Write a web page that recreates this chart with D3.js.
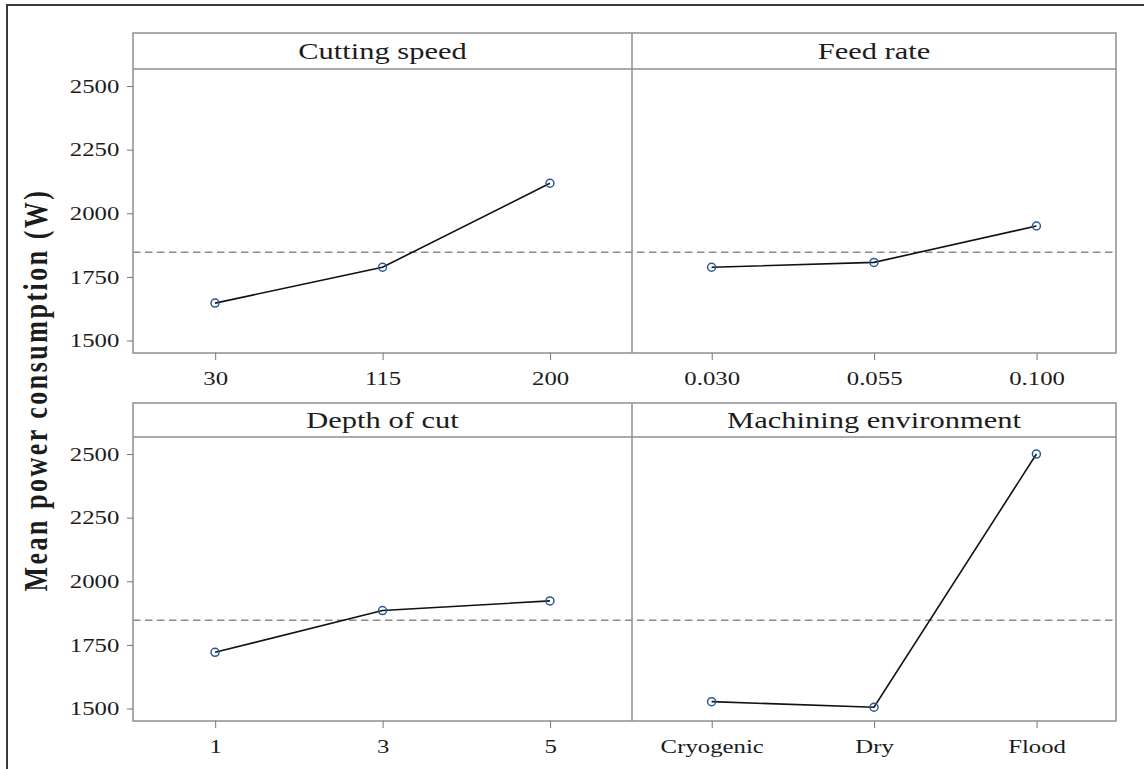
<!DOCTYPE html>
<html>
<head>
<meta charset="utf-8">
<script src="https://cdn.jsdelivr.net/npm/d3@7"></script>
<style>
  html, body { margin: 0; padding: 0; background: #fff; }
  svg { display: block; }
  .frame, .panel line, .panel rect, .tick line, .mark-line, .mean-line, .marker {
    vector-effect: non-scaling-stroke;
  }
</style>
</head>
<body>
<div id="chart"></div>
<script>
// Main effects plot: mean power consumption for each machining factor
const factorNames = ["Cutting speed", "Feed rate", "Depth of cut", "Machining environment"];

const cuttingSpeedLevels = ["30", "115", "200"];
const cuttingSpeedMeans  = [1647, 1788, 2118];

const feedRateLevels = ["0.030", "0.055", "0.100"];
const feedRateMeans  = [1788, 1807, 1950];

const depthOfCutLevels = ["1", "3", "5"];
const depthOfCutMeans  = [1721, 1885, 1923];

const environmentLevels = ["Cryogenic", "Dry", "Flood"];
const environmentMeans  = [1527, 1505, 2500];

const yTickValues = [1500, 1750, 2000, 2250, 2500];
const grandMean = 1847;
const yLabel = "Mean power consumption (W)";

// Drawing space is narrower than the page; the viewBox widens it to full width.
const pageW = 1144, pageH = 769;
const W = 900, H = 769;
const sx = pageW / W;

const svg = d3.select("#chart").append("svg")
  .attr("width", pageW).attr("height", pageH)
  .attr("viewBox", `0 0 ${W} ${H}`)
  .attr("preserveAspectRatio", "none");

const fontSerif = "'Liberation Serif', 'Times New Roman', serif";
const textColor = "#1c1c1c";
const borderColor = "#8e8e8e";

// Outer frame
svg.append("rect").attr("class", "frame")
  .attr("x", 7 / sx).attr("y", 5).attr("width", W).attr("height", H)
  .attr("fill", "none").attr("stroke", "#3a3a3a").attr("stroke-width", 2);

const colX = [133 / sx, 632 / sx, 1116 / sx];
const rows = [
  { top: 33, header: 69, bottom: 353 },
  { top: 403, header: 437, bottom: 721 }
];

const panels = [
  { name: factorNames[0], levels: cuttingSpeedLevels, means: cuttingSpeedMeans, row: 0, col: 0 },
  { name: factorNames[1], levels: feedRateLevels, means: feedRateMeans, row: 0, col: 1 },
  { name: factorNames[2], levels: depthOfCutLevels, means: depthOfCutMeans, row: 1, col: 0 },
  { name: factorNames[3], levels: environmentLevels, means: environmentMeans, row: 1, col: 1 }
];

const yDomain = [1451, 2567];

rows.forEach((r, ri) => {
  const g = svg.append("g").attr("class", "panel");
  const y = d3.scaleLinear().domain(yDomain).range([r.bottom, r.header]);

  // Reference line at the grand mean spanning both columns
  g.append("line").attr("class", "mean-line")
    .attr("x1", colX[0]).attr("x2", colX[2])
    .attr("y1", y(grandMean)).attr("y2", y(grandMean))
    .attr("stroke", "#8a8a8a").attr("stroke-width", 1.5)
    .attr("stroke-dasharray", "7.5,4.5");

  // Panel borders and header strip
  g.append("rect")
    .attr("x", colX[0]).attr("y", r.top)
    .attr("width", colX[2] - colX[0]).attr("height", r.bottom - r.top)
    .attr("fill", "none").attr("stroke", borderColor).attr("stroke-width", 1.5);
  g.append("line")
    .attr("x1", colX[0]).attr("x2", colX[2]).attr("y1", r.header).attr("y2", r.header)
    .attr("stroke", borderColor).attr("stroke-width", 1.5);
  g.append("line")
    .attr("x1", colX[1]).attr("x2", colX[1]).attr("y1", r.top).attr("y2", r.bottom)
    .attr("stroke", borderColor).attr("stroke-width", 1.5);

  // Shared y axis on the left column
  const yAxis = d3.axisLeft(y).tickValues(yTickValues).tickFormat(d3.format("d"))
    .tickSize(6 / sx).tickPadding(6);
  const ya = svg.append("g").attr("transform", `translate(${colX[0]},0)`).call(yAxis);
  ya.select(".domain").remove();
  ya.selectAll(".tick line").attr("stroke", "#777").attr("stroke-width", 1);
  ya.selectAll(".tick text")
    .attr("font-family", fontSerif).attr("font-size", 19.5).attr("fill", textColor);
});

panels.forEach(p => {
  const r = rows[p.row];
  const x0 = colX[p.col], x1 = colX[p.col + 1];
  const y = d3.scaleLinear().domain(yDomain).range([r.bottom, r.header]);
  const x = d3.scalePoint().domain(p.levels).range([x0, x1]).padding(0.49);

  // Factor title in header strip
  svg.append("text")
    .attr("x", (x0 + x1) / 2).attr("y", (r.top + r.header) / 2 + 8)
    .attr("text-anchor", "middle")
    .attr("font-family", fontSerif).attr("font-size", 24).attr("fill", textColor)
    .text(p.name);

  // Category axis below each panel
  const xAxis = d3.axisBottom(x).tickSize(7).tickPadding(11);
  const xa = svg.append("g").attr("transform", `translate(0,${r.bottom})`).call(xAxis);
  xa.select(".domain").remove();
  xa.selectAll(".tick line").attr("stroke", "#777").attr("stroke-width", 1);
  xa.selectAll(".tick text")
    .attr("font-family", fontSerif).attr("font-size", 19.5).attr("fill", textColor);

  const pts = p.levels.map((lv, i) => ({ level: lv, value: p.means[i] }));

  svg.append("path").datum(pts).attr("class", "mark-line")
    .attr("fill", "none").attr("stroke", "#111").attr("stroke-width", 1.6)
    .attr("d", d3.line().x(d => x(d.level)).y(d => y(d.value)));

  svg.selectAll(null).data(pts).enter().append("ellipse").attr("class", "marker")
    .attr("cx", d => x(d.level)).attr("cy", d => y(d.value))
    .attr("rx", 4 / sx).attr("ry", 4)
    .attr("fill", "none").attr("stroke", "#2a5a94").attr("stroke-width", 1.5);
});

// Y-axis title
svg.append("text")
  .attr("transform", `translate(${47 / sx},390) rotate(-90)`)
  .attr("text-anchor", "middle")
  .attr("font-family", fontSerif).attr("font-weight", "bold")
  .attr("font-size", 26).attr("letter-spacing", 2.5).attr("fill", textColor)
  .text(yLabel);
</script>
</body>
</html>
